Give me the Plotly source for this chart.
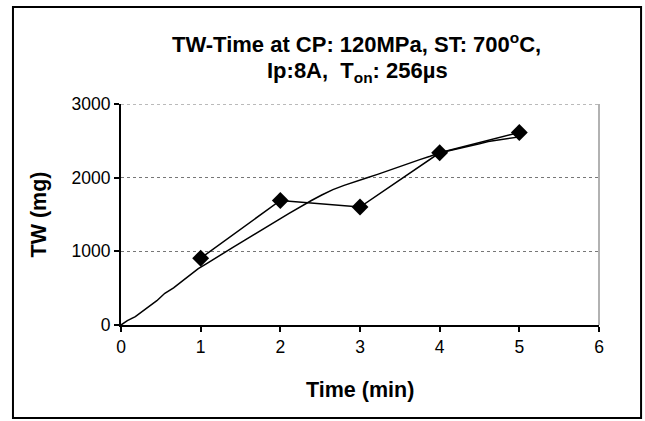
import plotly.graph_objects as go

# Measured points (diamonds)
time_pts = [1, 2, 3, 4, 5]
tw_pts = [907, 1691, 1601, 2338, 2614]

# Continuous trend curve
curve_x = [0, 0.08, 0.18, 0.32, 0.45, 0.55, 0.66, 0.76, 0.87, 0.97, 1.07, 1.17, 1.29, 1.41, 1.55,
           1.69, 1.83, 1.97, 2.11, 2.25, 2.39, 2.52, 2.66, 2.80, 2.94, 3.08, 3.22, 3.36, 3.50,
           3.63, 3.75, 3.88, 4.00, 4.13, 4.26, 4.38, 4.50, 4.61, 4.71, 4.82, 4.94, 4.98, 5.0]
curve_y = [0, 60, 113, 227, 330, 431, 505, 589, 680, 765, 830, 900, 975, 1057, 1150,
           1245, 1337, 1425, 1515, 1605, 1690, 1765, 1837, 1895, 1950, 1995, 2045, 2100, 2154,
           2200, 2245, 2290, 2336, 2370, 2400, 2426, 2460, 2490, 2505, 2520, 2535, 2550, 2590]

x_ticks = [0, 1, 2, 3, 4, 5, 6]
y_ticks = [0, 1000, 2000, 3000]

fig = go.Figure()
fig.add_trace(go.Scatter(x=curve_x, y=curve_y, mode="lines",
                         line=dict(color="black", width=1.5), showlegend=False))
fig.add_trace(go.Scatter(x=time_pts, y=tw_pts, mode="lines+markers",
                         line=dict(color="black", width=1.5),
                         marker=dict(symbol="diamond", size=13, color="black"),
                         showlegend=False))

font_family = "Liberation Sans, Arial, sans-serif"

fig.update_layout(
    width=645, height=421,
    margin=dict(l=121, r=46, t=104, b=96),
    paper_bgcolor="white", plot_bgcolor="white",
    font=dict(family=font_family, color="black", size=17),
    xaxis=dict(range=[0, 6], tickvals=x_ticks, showgrid=False, zeroline=False,
               showline=True, linecolor="black", linewidth=2,
               ticks="outside", ticklen=5, tickcolor="black", tickwidth=1.5,
               tickfont=dict(size=17.5)),
    yaxis=dict(range=[0, 3000], tickvals=y_ticks, showgrid=True,
               gridcolor="#777777", griddash="dot", gridwidth=1, zeroline=False,
               showline=True, linecolor="black", linewidth=2,
               ticks="outside", ticklen=5, tickcolor="black", tickwidth=1.5,
               tickfont=dict(size=17.5)),
    shapes=[
        dict(type="line", xref="paper", yref="paper", x0=1, x1=1, y0=0, y1=1,
             line=dict(color="#999999", width=1.5)),
        dict(type="line", xref="paper", yref="y", x0=0, x1=1, y0=3000, y1=3000,
             line=dict(color="#777777", width=1, dash="dot")),
        dict(type="rect", xref="paper", yref="paper", x0=-0.226, x1=1.088, y0=-0.421, y1=1.439,
             line=dict(color="black", width=2)),
    ],
    annotations=[
        dict(xref="paper", yref="paper", x=0.492, y=1.276, showarrow=False,
             text="<b>TW-Time at CP: 120MPa, ST: 700<sup>o</sup>C,</b>",
             font=dict(size=22), xanchor="center", yanchor="middle"),
        dict(xref="paper", yref="paper", x=0.495, y=1.145, showarrow=False,
             text="<b>Ip:8A,  T<sub>on</sub>: 256µs</b>",
             font=dict(size=22), xanchor="center", yanchor="middle"),
        dict(xref="paper", yref="paper", x=0.5, y=(325 - 390) / 221, showarrow=False,
             text="<b>Time (min)</b>", font=dict(size=21.5),
             xanchor="center", yanchor="middle"),
        dict(xref="paper", yref="paper", x=(38 - 121) / 478, y=0.5, showarrow=False,
             text="<b>TW (mg)</b>", font=dict(size=21.5), textangle=-90,
             xanchor="center", yanchor="middle"),
    ],
)

fig.write_html("out.html")
